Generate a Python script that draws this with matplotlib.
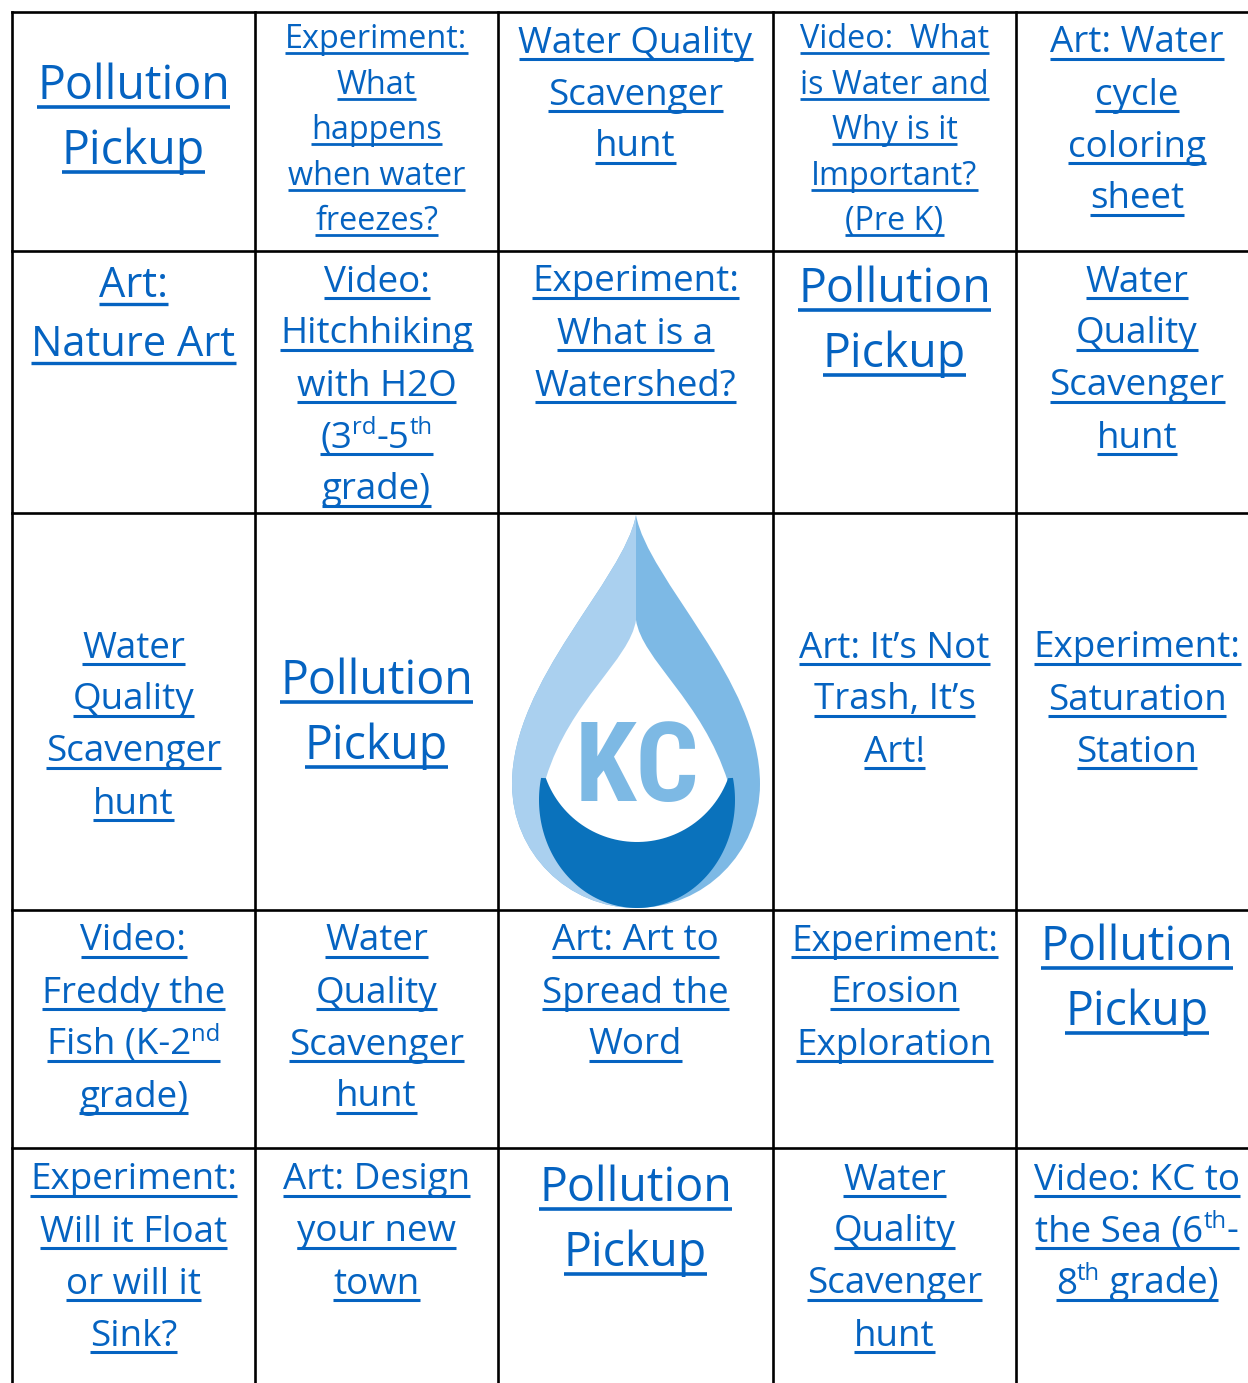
import re
import numpy as np
import matplotlib
matplotlib.use("Agg")
import matplotlib.pyplot as plt
from matplotlib.path import Path
from matplotlib.patches import PathPatch, Polygon
from matplotlib.font_manager import FontProperties, fontManager

# ---------------- data: cell texts (row by row) ----------------
ROW1 = [["Pollution", "Pickup"],
        ["Experiment:", "What", "happens", "when water", "freezes?"],
        ["Water Quality", "Scavenger", "hunt"],
        ["Video:  What", "is Water and", "Why is it", "Important?", "(Pre K)"],
        ["Art: Water", "cycle", "coloring", "sheet"]]
ROW2 = [["Art:", "Nature Art"],
        ["Video:", "Hitchhiking", "with H2O", "(3^{rd}-5^{th}", "grade)"],
        ["Experiment:", "What is a", "Watershed?"],
        ["Pollution", "Pickup"],
        ["Water", "Quality", "Scavenger", "hunt"]]
ROW3 = [["Water", "Quality", "Scavenger", "hunt"],
        ["Pollution", "Pickup"],
        None,
        ["Art: It\u2019s Not", "Trash, It\u2019s", "Art!"],
        ["Experiment:", "Saturation", "Station"]]
ROW4 = [["Video:", "Freddy the", "Fish (K-2^{nd}", "grade)"],
        ["Water", "Quality", "Scavenger", "hunt"],
        ["Art: Art to", "Spread the", "Word"],
        ["Experiment:", "Erosion", "Exploration"],
        ["Pollution", "Pickup"]]
ROW5 = [["Experiment:", "Will it Float", "or will it", "Sink?"],
        ["Art: Design", "your new", "town"],
        ["Pollution", "Pickup"],
        ["Water", "Quality", "Scavenger", "hunt"],
        ["Video: KC to", "the Sea (6^{th}-", "8^{th} grade)"]]
ROWS = [ROW1, ROW2, ROW3, ROW4, ROW5]
LOGO_TEXT = "KC"

# ---------------- layout / style ----------------
STYLE = [["big", "small", "med", "small", "med"],
         ["large", "med", "med", "big", "med"],
         ["med", "big", None, "med", "med"],
         ["med", "med", "med", "med", "big"],
         ["med", "med", "big", "med", "med"]]
# fontsize(pt), line spacing(px), underline offset below baseline(px), underline width(pt)
STYLE_PARAMS = {"big": (33.5, 65, 8, 2.6),
                "large": (30.0, 59, 7, 2.4),
                "med": (26.5, 52, 6.5, 2.2),
                "small": (23.3, 45.5, 4.8, 2.0)}
# y of first underline in each cell (px from top)
UL0 = [[107, 53, 59, 53, 59],
       [304, 298, 298, 310, 298],
       [664, 702, None, 664, 664],
       [957, 957, 957, 957, 968],
       [1196, 1196, 1209, 1196, 1196]]
COL_X = [133.5, 376.5, 635.5, 894.5, 1137]
V_LINES = [12, 255, 498, 773, 1016]
H_LINES = [12, 250.5, 513, 910, 1148]

W, H = 1248, 1383
LINK = "#0563C1"
FONT = ["Open Sans", "DejaVu Sans"]

installed = {f.name for f in fontManager.ttflist}
LOGO_FONT = [f for f in ["Liberation Sans Narrow", "Roboto Condensed", "Open Sans Condensed",
                         "DejaVu Sans Condensed", "Noto Sans Display", "DejaVu Sans"]
             if f in installed] or ["DejaVu Sans"]
narrow = LOGO_FONT[0] != "DejaVu Sans"

fig = plt.figure(figsize=(W / 100, H / 100), dpi=100)
ax = fig.add_axes([0, 0, 1, 1])
ax.set_xlim(0, W)
ax.set_ylim(H, 0)
ax.axis("off")
renderer = fig.canvas.get_renderer()


def text_width(s, fs):
    prop = FontProperties(family=FONT, size=fs)
    w1, _, _ = renderer.get_text_width_height_descent("|" + s + "|", prop, ismath=False)
    w0, _, _ = renderer.get_text_width_height_descent("||", prop, ismath=False)
    return w1 - w0


def parse(s):
    segs = []
    for p in re.split(r"(\^\{[^}]*\})", s):
        if not p:
            continue
        if p.startswith("^{"):
            segs.append((p[2:-1], True))
        else:
            segs.append((p, False))
    return segs


def draw_line(xc, yb, s, fs, ul_y, lw):
    segs = parse(s)
    px = fs * 100 / 72.0
    widths = []
    for t, sup in segs:
        widths.append(text_width(t, fs * 0.65 if sup else fs))
    total = sum(widths)
    x = xc - total / 2
    x0 = x
    for (t, sup), w in zip(segs, widths):
        ax.text(x, yb - (0.38 * px if sup else 0), t,
                fontsize=fs * 0.65 if sup else fs, family=FONT,
                color=LINK, ha="left", va="baseline")
        x += w
    ax.plot([x0, x0 + total], [ul_y, ul_y], color=LINK, lw=lw,
            solid_capstyle="butt")


# grid
for x in V_LINES:
    ax.plot([x, x], [H_LINES[0], H], color="black", lw=1.9, solid_capstyle="projecting")
for y in H_LINES:
    ax.plot([V_LINES[0], W], [y, y], color="black", lw=1.9, solid_capstyle="projecting")

# texts
for r, row in enumerate(ROWS):
    for c, lines in enumerate(row):
        if lines is None:
            continue
        fs, sp, off, lw = STYLE_PARAMS[STYLE[r][c]]
        for i, line in enumerate(lines):
            ul = UL0[r][c] + i * sp
            draw_line(COL_X[c], ul - off, line, fs, ul, lw)

# ---------------- logo (water drop) ----------------
cx = 636
k = 0.5523 * 124
drop_verts = [(cx, 515), (648, 580), (760, 680), (760, 784),
              (760, 784 + k), (cx + k, 908), (cx, 908),
              (cx - k, 908), (512, 784 + k), (512, 784),
              (512, 680), (624, 580), (cx, 515), (cx, 515)]
drop_codes = [Path.MOVETO] + [Path.CURVE4] * 12 + [Path.CLOSEPOLY]
ax.add_patch(PathPatch(Path(drop_verts, drop_codes), fc="#7DB9E5", ec="none", zorder=3))
left_verts = [(cx, 515), (624, 580), (512, 680), (512, 784),
              (512, 784 + k), (cx - k, 908), (cx, 908), (cx, 515), (cx, 515)]
left_codes = [Path.MOVETO] + [Path.CURVE4] * 6 + [Path.LINETO, Path.CLOSEPOLY]
ax.add_patch(PathPatch(Path(left_verts, left_codes), fc="#AAD0EF", ec="none", zorder=3))
inner_verts = [(cx, 620), (630, 660), (570, 700), (546, 778),
               (546, 800), (553, 850), (721, 850), (728, 800), (728, 782),
               (702, 700), (642, 660), (cx, 620), (cx, 620)]
inner_codes = [Path.MOVETO, Path.CURVE4, Path.CURVE4, Path.CURVE4,
               Path.LINETO, Path.LINETO, Path.LINETO, Path.LINETO, Path.LINETO,
               Path.CURVE4, Path.CURVE4, Path.CURVE4, Path.CLOSEPOLY]
ax.add_patch(PathPatch(Path(inner_verts, inner_codes), fc="white", ec="none", zorder=4))
phi = np.radians(np.linspace(160, 20, 60))
arc = np.column_stack([637 + 97 * np.cos(phi), 745 + 97 * np.sin(phi)])
psi = np.radians(np.linspace(-11.8, 191.8, 120))
ell = np.column_stack([637 + 98 * np.cos(psi), 800 + 108 * np.sin(psi)])
ax.add_patch(Polygon(np.vstack([arc, ell]), closed=True, fc="#0A72BC", ec="none", zorder=5))
ax.text(637, 771, LOGO_TEXT, family=LOGO_FONT,
        fontweight="bold", fontsize=80 if narrow else 62, color="#7DB9E4",
        ha="center", va="center", zorder=6)

fig.savefig("out.png", dpi=100)
